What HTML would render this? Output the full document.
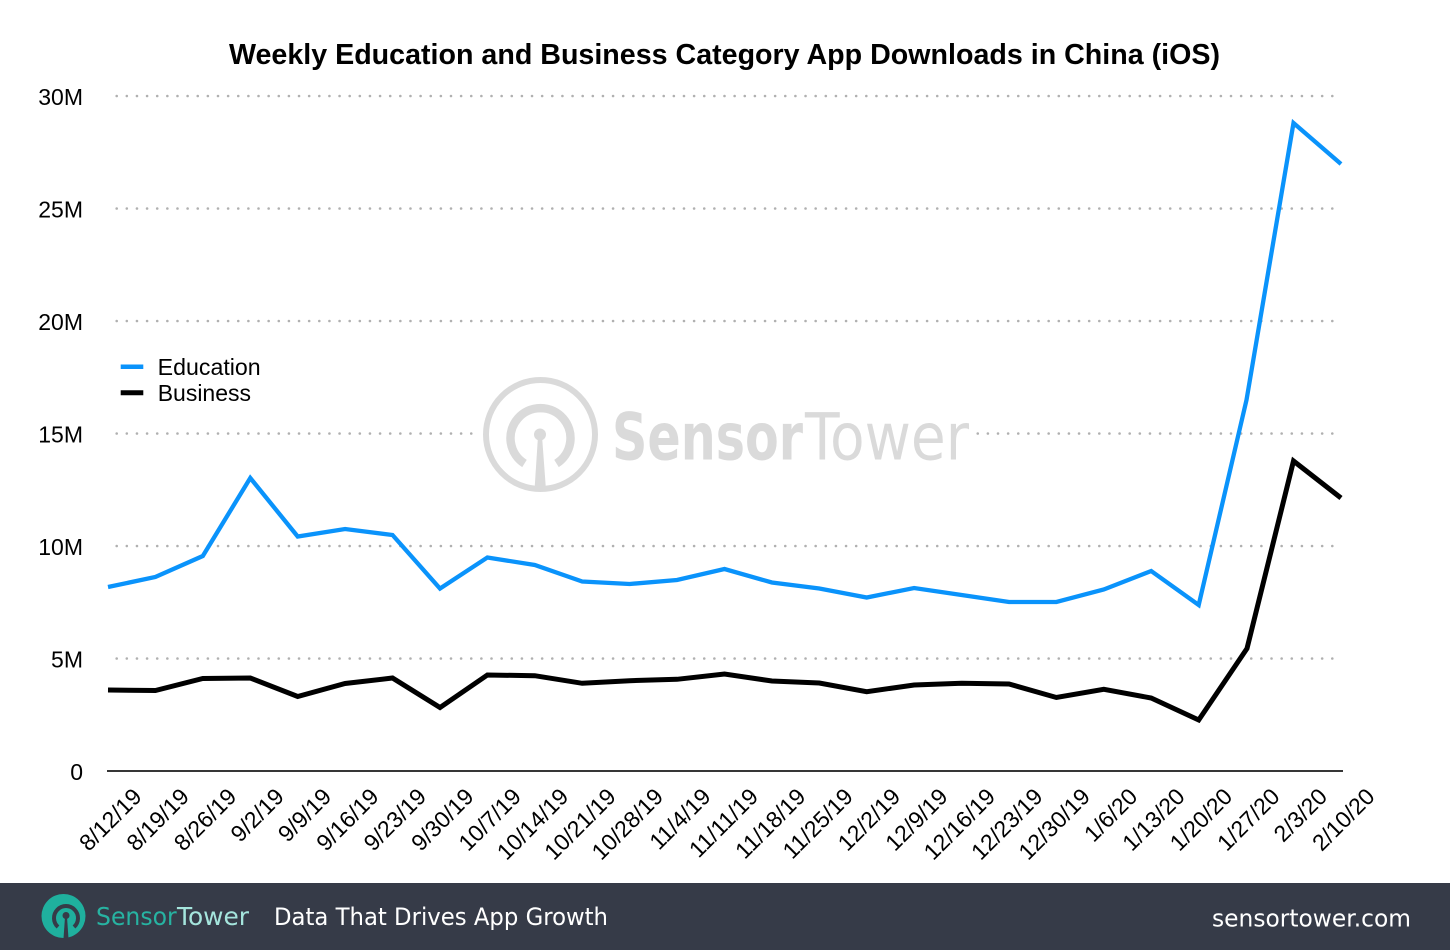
<!DOCTYPE html>
<html><head><meta charset="utf-8"><style>
html,body{margin:0;padding:0;background:#fff;}
svg{display:block;}
</style></head><body>
<svg width="1450" height="950" viewBox="0 0 1450 950" xmlns="http://www.w3.org/2000/svg">
<rect width="1450" height="950" fill="#fff"/>
<text x="229" y="64" font-family="Liberation Sans, Arial, sans-serif" font-weight="bold" font-size="29" textLength="991" lengthAdjust="spacingAndGlyphs" fill="#000">Weekly Education and Business Category App Downloads in China (iOS)</text>

<g stroke="#b0b0b0" stroke-width="2.6" stroke-linecap="round" stroke-dasharray="0 10.13" fill="none">
<line x1="116.7" y1="96" x2="1334" y2="96"/>
<line x1="116.7" y1="208.5" x2="1334" y2="208.5"/>
<line x1="116.7" y1="321" x2="1334" y2="321"/>
<line x1="116.7" y1="433.5" x2="1334" y2="433.5"/>
<line x1="116.7" y1="546" x2="1334" y2="546"/>
<line x1="116.7" y1="658.5" x2="1334" y2="658.5"/>
</g>
<rect x="476" y="426" width="497" height="15" fill="#fff"/>

<g font-family="Liberation Sans, Arial, sans-serif" font-size="23" fill="#000" text-anchor="end">
<text x="83" y="105">30M</text>
<text x="83" y="217.5">25M</text>
<text x="83" y="330">20M</text>
<text x="83" y="442.5">15M</text>
<text x="83" y="555">10M</text>
<text x="83" y="667.5">5M</text>
<text x="83" y="780">0</text>
</g>

<!-- watermark -->
<g fill="none" stroke="#dadada">
<circle cx="540.5" cy="434.5" r="54.5" stroke-width="6"/>
<path d="M 524.5 463.5 A 30 30 0 1 1 556.5 463.5" stroke-width="8.5"/>
</g>
<circle cx="540" cy="434.5" r="6" fill="#dadada"/>
<polygon points="538,436 542,436 546,490 534.5,490" fill="#dadada"/>
<text x="612" y="459.5" font-family="DejaVu Sans, Liberation Sans, sans-serif" font-weight="bold" font-size="65" fill="#dadada" textLength="191" lengthAdjust="spacingAndGlyphs">Sensor</text>
<text x="805" y="459.5" font-family="DejaVu Sans, Liberation Sans, sans-serif" font-weight="normal" font-size="65" fill="#dadada" textLength="164" lengthAdjust="spacingAndGlyphs">Tower</text>

<!-- legend -->
<line x1="120.7" y1="366.7" x2="143.3" y2="366.7" stroke="#0a93fb" stroke-width="4.5"/>
<line x1="120.7" y1="392.7" x2="143.3" y2="392.7" stroke="#000" stroke-width="5"/>
<g font-family="Liberation Sans, Arial, sans-serif" font-size="23" fill="#000">
<text x="157.7" y="375" textLength="103" lengthAdjust="spacingAndGlyphs">Education</text>
<text x="157.7" y="401">Business</text>
</g>

<!-- axis -->
<line x1="107" y1="771" x2="1343" y2="771" stroke="#1a1a1a" stroke-width="1.8"/>

<!-- series -->
<polyline fill="none" stroke="#000" stroke-width="5" stroke-linejoin="miter" stroke-miterlimit="3" points="108,690 155.4,690.5 202.8,678.5 250.3,678 297.7,696.5 345.1,683.5 392.5,678 440,707.5 487.4,675 534.8,675.7 582.2,683.3 629.6,680.7 677,679.3 724.5,674 771.9,681 819.3,683 866.7,691.7 914.1,685 961.6,683.3 1009,684 1056.4,697.5 1103.8,689.3 1151.2,698 1198.7,720 1247,648.5 1293.5,461 1341,498"/>
<polyline fill="none" stroke="#0a93fb" stroke-width="4.3" stroke-linejoin="miter" stroke-miterlimit="3" points="108,587 155.4,577 202.8,556 250.3,478 297.7,536.5 345.1,529 392.5,535 440,588.5 487.4,557.5 534.8,565 582.2,581.5 629.6,584 677,580 724.5,569 771.9,582.5 819.3,588.5 866.7,597.5 914.1,588 961.6,595 1009,602 1056.4,602 1103.8,589.5 1151.2,571 1198.7,605 1246.5,400 1293.5,123 1341,164"/>

<!-- x tick labels -->
<g font-family="Liberation Sans, Arial, sans-serif" font-size="23" fill="#000" text-anchor="end">
<text transform="translate(143,798) rotate(-45)">8/12/19</text>
<text transform="translate(190.4,798) rotate(-45)">8/19/19</text>
<text transform="translate(237.8,798) rotate(-45)">8/26/19</text>
<text transform="translate(285.3,798) rotate(-45)">9/2/19</text>
<text transform="translate(332.7,798) rotate(-45)">9/9/19</text>
<text transform="translate(380.1,798) rotate(-45)">9/16/19</text>
<text transform="translate(427.5,798) rotate(-45)">9/23/19</text>
<text transform="translate(475,798) rotate(-45)">9/30/19</text>
<text transform="translate(522.4,798) rotate(-45)">10/7/19</text>
<text transform="translate(569.8,798) rotate(-45)">10/14/19</text>
<text transform="translate(617.2,798) rotate(-45)">10/21/19</text>
<text transform="translate(664.6,798) rotate(-45)">10/28/19</text>
<text transform="translate(712,798) rotate(-45)">11/4/19</text>
<text transform="translate(759.5,798) rotate(-45)">11/11/19</text>
<text transform="translate(806.9,798) rotate(-45)">11/18/19</text>
<text transform="translate(854.3,798) rotate(-45)">11/25/19</text>
<text transform="translate(901.7,798) rotate(-45)">12/2/19</text>
<text transform="translate(949.1,798) rotate(-45)">12/9/19</text>
<text transform="translate(996.6,798) rotate(-45)">12/16/19</text>
<text transform="translate(1044,798) rotate(-45)">12/23/19</text>
<text transform="translate(1091.4,798) rotate(-45)">12/30/19</text>
<text transform="translate(1138.8,798) rotate(-45)">1/6/20</text>
<text transform="translate(1186.2,798) rotate(-45)">1/13/20</text>
<text transform="translate(1233.7,798) rotate(-45)">1/20/20</text>
<text transform="translate(1281,798) rotate(-45)">1/27/20</text>
<text transform="translate(1328.5,798) rotate(-45)">2/3/20</text>
<text transform="translate(1376,798) rotate(-45)">2/10/20</text>
</g>

<!-- footer -->
<rect x="0" y="883" width="1450" height="67" fill="#363b48"/>
<circle cx="63.5" cy="916" r="22" fill="#1fb09e"/>
<path d="M 58 927 A 12 12 0 1 1 74 927" fill="none" stroke="#363b48" stroke-width="4"/>
<circle cx="66" cy="915.5" r="3.5" fill="#363b48"/>
<polygon points="65,917 67,917 68.5,938.5 63.5,938.5" fill="#363b48"/>
<text x="96" y="925" font-family="DejaVu Sans, Liberation Sans, sans-serif" font-size="25" fill="#27b3a2" textLength="80.7" lengthAdjust="spacingAndGlyphs">Sensor</text>
<text x="177" y="925" font-family="DejaVu Sans, Liberation Sans, sans-serif" font-size="25" fill="#a5e5dd" textLength="72" lengthAdjust="spacingAndGlyphs">Tower</text>
<text x="274" y="925" font-family="DejaVu Sans, Liberation Sans, sans-serif" font-size="24" fill="#ffffff" textLength="334" lengthAdjust="spacingAndGlyphs">Data That Drives App Growth</text>
<text x="1212" y="926.5" font-family="DejaVu Sans, Liberation Sans, sans-serif" font-size="24" fill="#ffffff" textLength="199" lengthAdjust="spacingAndGlyphs">sensortower.com</text>
</svg>
</body></html>
